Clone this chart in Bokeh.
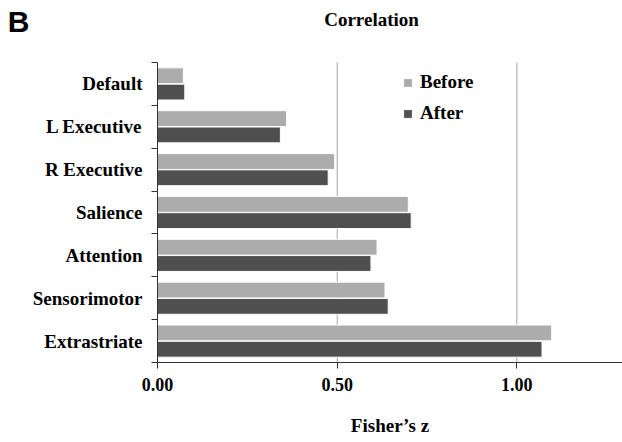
from bokeh.plotting import figure
from bokeh.models import (Range1d, FixedTicker, NumeralTickFormatter,
                          Legend, LegendItem, ColumnDataSource, LinearAxis)
from bokeh.core.properties import value
from bokeh.embed import file_html
from bokeh.resources import INLINE

# ---- data (top to bottom as in the chart) ----
networks = ["Default", "L Executive", "R Executive", "Salience",
            "Attention", "Sensorimotor", "Extrastriate"]
before = [0.072, 0.359, 0.493, 0.698, 0.611, 0.633, 1.097]
after = [0.076, 0.342, 0.475, 0.706, 0.594, 0.642, 1.070]
x_ticks = [0.0, 0.5, 1.0]
series_names = ["Before", "After"]
series_colors = ["#acacac", "#4f4f4f"]
panel_letter = "B"
chart_title = "Correlation"
x_label = "Fisher’s z"

SERIF = "Liberation Serif"
SANS = "Liberation Sans"

n = len(networks)
centers = [n - i - 0.5 for i in range(n)]
off = 0.19
bar_h = 0.37
W, H = 622, 442
FL, FB = 157, 80          # frame left / bottom border
FT = 62                   # where the category block starts
y_end = n * (H - FB) / (H - FB - FT)

src = ColumnDataSource(dict(
    net=networks,
    y_before=[c + off for c in centers],
    y_after=[c - off for c in centers],
    before=before,
    after=after,
))

p = figure(width=W, height=H, output_backend="svg", toolbar_location=None,
           x_range=Range1d(0, 1.294), y_range=Range1d(0, y_end),
           min_border_left=FL, min_border_right=0, min_border_top=0,
           min_border_bottom=FB)
p.outline_line_color = None
p.background_fill_color = "white"
p.border_fill_color = "white"
p.grid.visible = False

# vertical grid lines, only over the category block
gx = [t for t in x_ticks if t > 0]
p.segment(x0=gx, y0=[0] * len(gx), x1=gx, y1=[n] * len(gx),
          line_color="#a6a6a6", line_width=1)

r_b = p.hbar(y="y_before", right="before", left=0, height=bar_h, source=src,
             fill_color=series_colors[0], line_color="white", line_width=1)
r_a = p.hbar(y="y_after", right="after", left=0, height=bar_h, source=src,
             fill_color=series_colors[1], line_color="white", line_width=1)

# x axis
xa = p.xaxis[0]
xa.ticker = FixedTicker(ticks=x_ticks)
xa.formatter = NumeralTickFormatter(format="0.00")
xa.major_tick_out = 6
xa.major_tick_in = 0
xa.minor_tick_out = 0
xa.minor_tick_in = 0
xa.axis_line_color = "#333333"
xa.major_tick_line_color = "#333333"
xa.major_label_text_font = SERIF
xa.major_label_text_font_style = "bold"
xa.major_label_text_font_size = "18px"
xa.major_label_text_color = "black"
xa.major_label_standoff = 9
xa.axis_label = x_label
xa.axis_label_text_font = SERIF
xa.axis_label_text_font_style = "bold"
xa.axis_label_text_font_size = "19px"
xa.axis_label_text_color = "black"
xa.axis_label_standoff = 21

# y axis (category names), limited to the category block
ya = p.yaxis[0]
ya.bounds = (0, n)
ya.ticker = FixedTicker(ticks=centers, minor_ticks=list(range(n + 1)))
ya.major_label_overrides = {c: name for c, name in zip(centers, networks)}
ya.major_tick_out = 0
ya.major_tick_in = 0
ya.minor_tick_out = 6
ya.minor_tick_in = 0
ya.axis_line_color = "#333333"
ya.minor_tick_line_color = "#333333"
ya.major_label_text_font = SERIF
ya.major_label_text_font_style = "bold"
ya.major_label_text_font_size = "19px"
ya.major_label_text_color = "black"
ya.major_label_standoff = 9

# panel letter as an outer left axis label
yB = n + (y_end - n) * (1 - 21.3 / FT)
ab = LinearAxis(ticker=FixedTicker(ticks=[yB]),
                major_label_overrides={yB: panel_letter},
                axis_line_color=None, major_tick_line_color=None,
                minor_tick_line_color=None, major_tick_out=0,
                major_label_standoff=0, major_label_text_font=SANS,
                major_label_text_font_style="bold",
                major_label_text_font_size="30px",
                major_label_text_color="black")
p.add_layout(ab, "left")

# chart title in the free strip above the bars
p.text(x=[(371 - FL) / 359.3], y=[n + (y_end - n) * (1 - 18.5 / FT)],
       text=[chart_title], text_font=value(SERIF), text_font_style="bold",
       text_font_size="19px", text_baseline="middle",
       text_align="center", text_color="black")

# legend
legend = Legend(items=[LegendItem(label=series_names[0], renderers=[r_b]),
                       LegendItem(label=series_names[1], renderers=[r_a])],
                location=(245, 238), padding=0, margin=0, spacing=9,
                glyph_width=11, glyph_height=11, label_height=20,
                label_standoff=7, background_fill_alpha=0,
                border_line_color=None,
                label_text_font=SERIF, label_text_font_style="bold",
                label_text_font_size="19px", label_text_color="black")
p.add_layout(legend, "center")

open("out.html", "w").write(file_html(p, INLINE))
